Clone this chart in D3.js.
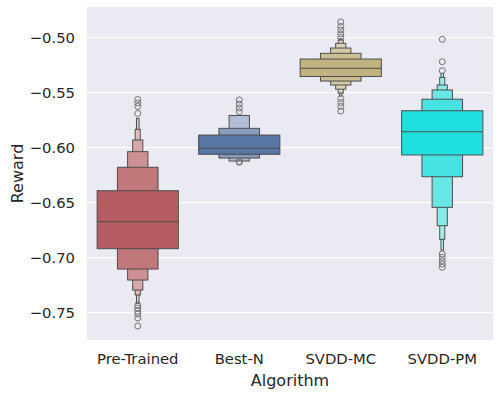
<!DOCTYPE html>
<html>
<head>
<meta charset="utf-8">
<script src="https://cdnjs.cloudflare.com/ajax/libs/d3/7.8.5/d3.min.js"></script>
<style>
  body { margin: 0; background: #fff; }
  text { font-family: "DejaVu Sans", sans-serif; fill: #262626; }
</style>
</head>
<body>
<script>
// chart data (letter values: index 0 = IQR box, then outward)
var categories = ["Pre-Trained", "Best-N", "SVDD-MC", "SVDD-PM"];
var medians = [-0.6673, -0.6005, -0.5278, -0.5855];
var upperValues = [
  [-0.6391, -0.6178, -0.6036, -0.5930, -0.5833, -0.5733],
  [-0.5885, -0.5824, -0.5707],
  [-0.5194, -0.5142, -0.5094, -0.5051, -0.5021, -0.5010],
  [-0.5664, -0.5559, -0.5475, -0.5430, -0.5362, -0.5324]
];
var lowerValues = [
  [-0.6918, -0.7103, -0.7203, -0.7294, -0.7339, -0.7415],
  [-0.6060, -0.6094, -0.6121],
  [-0.5353, -0.5394, -0.5430, -0.5468, -0.5503, -0.5530],
  [-0.6066, -0.6264, -0.6542, -0.6709, -0.6833, -0.6930]
];
var outliers = [
  [-0.5562, -0.5594, -0.5625, -0.5689, -0.7430, -0.7457, -0.7485, -0.7512, -0.7548, -0.7621],
  [-0.5566, -0.5603, -0.5639, -0.5673, -0.6125, -0.6133],
  [-0.4857, -0.4898, -0.4930, -0.4966, -0.4998, -0.5553, -0.5589, -0.5625, -0.5666],
  [-0.5015, -0.5218, -0.5300, -0.6966, -0.6996, -0.7027, -0.7057, -0.7087]
];
var yTicks = [-0.75, -0.70, -0.65, -0.60, -0.55, -0.50];
var palette = ["#C44E52", "#4C72B0", "#CCB974", "#00FFFF"];

var W = 500, H = 396;
var margin = {top: 7, right: 7, bottom: 56, left: 87};
var width = W - margin.left - margin.right,
    height = H - margin.top - margin.bottom;

var svg = d3.select("body").append("svg")
    .attr("width", W)
    .attr("height", H);

var g = svg.append("g")
    .attr("transform", "translate(" + margin.left + "," + margin.top + ")");

var x = d3.scaleBand().domain(categories).range([0, width]).padding(0);
var y = d3.scaleLinear().domain([-0.7748, -0.4721]).range([height, 0]);

// background + grid
g.append("rect").attr("width", width).attr("height", height).attr("fill", "#EAEAF2");
g.selectAll(".grid").data(yTicks).enter().append("line")
    .attr("x1", 0).attr("x2", width)
    .attr("y1", function(d) { return y(d); })
    .attr("y2", function(d) { return y(d); })
    .attr("stroke", "#fff").attr("stroke-width", 1.25);

// seaborn style colours: desaturate, then light palette towards the main colour
function mainColor(c) {
  var h = d3.hsl(c);
  h.s *= 0.75;
  return h.formatHex();
}
function levelColor(c, t) {
  var light = d3.hcl(d3.hcl(c).h, 3, 95);
  return d3.interpolateRgb(light, c)(t);
}

var edge = "#4d4d4d";

categories.forEach(function(cat, ci) {
  var cx = x(cat) + x.bandwidth() / 2;
  var base = mainColor(palette[ci]);
  var k = upperValues[ci].length;
  var grp = g.append("g");

  var levels = d3.range(k).reverse(); // outer first, inner on top
  grp.selectAll("rect").data(levels).enter().append("rect")
      .attr("x", function(i) { return cx - x.bandwidth() * 0.8 / Math.pow(2, i) / 2; })
      .attr("width", function(i) { return x.bandwidth() * 0.8 / Math.pow(2, i); })
      .attr("y", function(i) { return y(upperValues[ci][i]); })
      .attr("height", function(i) { return y(lowerValues[ci][i]) - y(upperValues[ci][i]); })
      .attr("fill", function(i) {
        var e = k - 1 - i;
        return levelColor(base, Math.pow(2, (e + 2) / (k + 1)) - 1);
      })
      .attr("stroke", edge)
      .attr("stroke-width", 1);

  grp.append("line")
      .attr("x1", cx - x.bandwidth() * 0.4).attr("x2", cx + x.bandwidth() * 0.4)
      .attr("y1", y(medians[ci])).attr("y2", y(medians[ci]))
      .attr("stroke", edge).attr("stroke-width", 1);

  grp.selectAll("circle").data(outliers[ci]).enter().append("circle")
      .attr("cx", cx)
      .attr("cy", function(d) { return y(d); })
      .attr("r", 3)
      .attr("fill", "none")
      .attr("stroke", "#737373")
      .attr("stroke-width", 1);
});

// axes (no tick marks, darkgrid style)
var yAxis = g.append("g").call(d3.axisLeft(y).tickValues(yTicks).tickSize(0).tickPadding(12)
    .tickFormat(function(d) { return d3.format(".2f")(d).replace("-", "\u2212"); }));
yAxis.select(".domain").remove();
yAxis.selectAll("text").attr("font-size", "14.8px").attr("font-family", "DejaVu Sans").attr("fill", "#262626");

var xAxis = g.append("g").attr("transform", "translate(0," + height + ")")
    .call(d3.axisBottom(x).tickSize(0).tickPadding(13));
xAxis.select(".domain").remove();
xAxis.selectAll("text").attr("font-size", "14.8px").attr("font-family", "DejaVu Sans").attr("fill", "#262626");

svg.append("text")
    .attr("x", margin.left + width / 2).attr("y", 386)
    .attr("text-anchor", "middle").attr("font-size", "16px")
    .text("Algorithm");

svg.append("text")
    .attr("transform", "translate(23," + (margin.top + height / 2) + ") rotate(-90)")
    .attr("text-anchor", "middle").attr("font-size", "16px")
    .text("Reward");
</script>
</body>
</html>
